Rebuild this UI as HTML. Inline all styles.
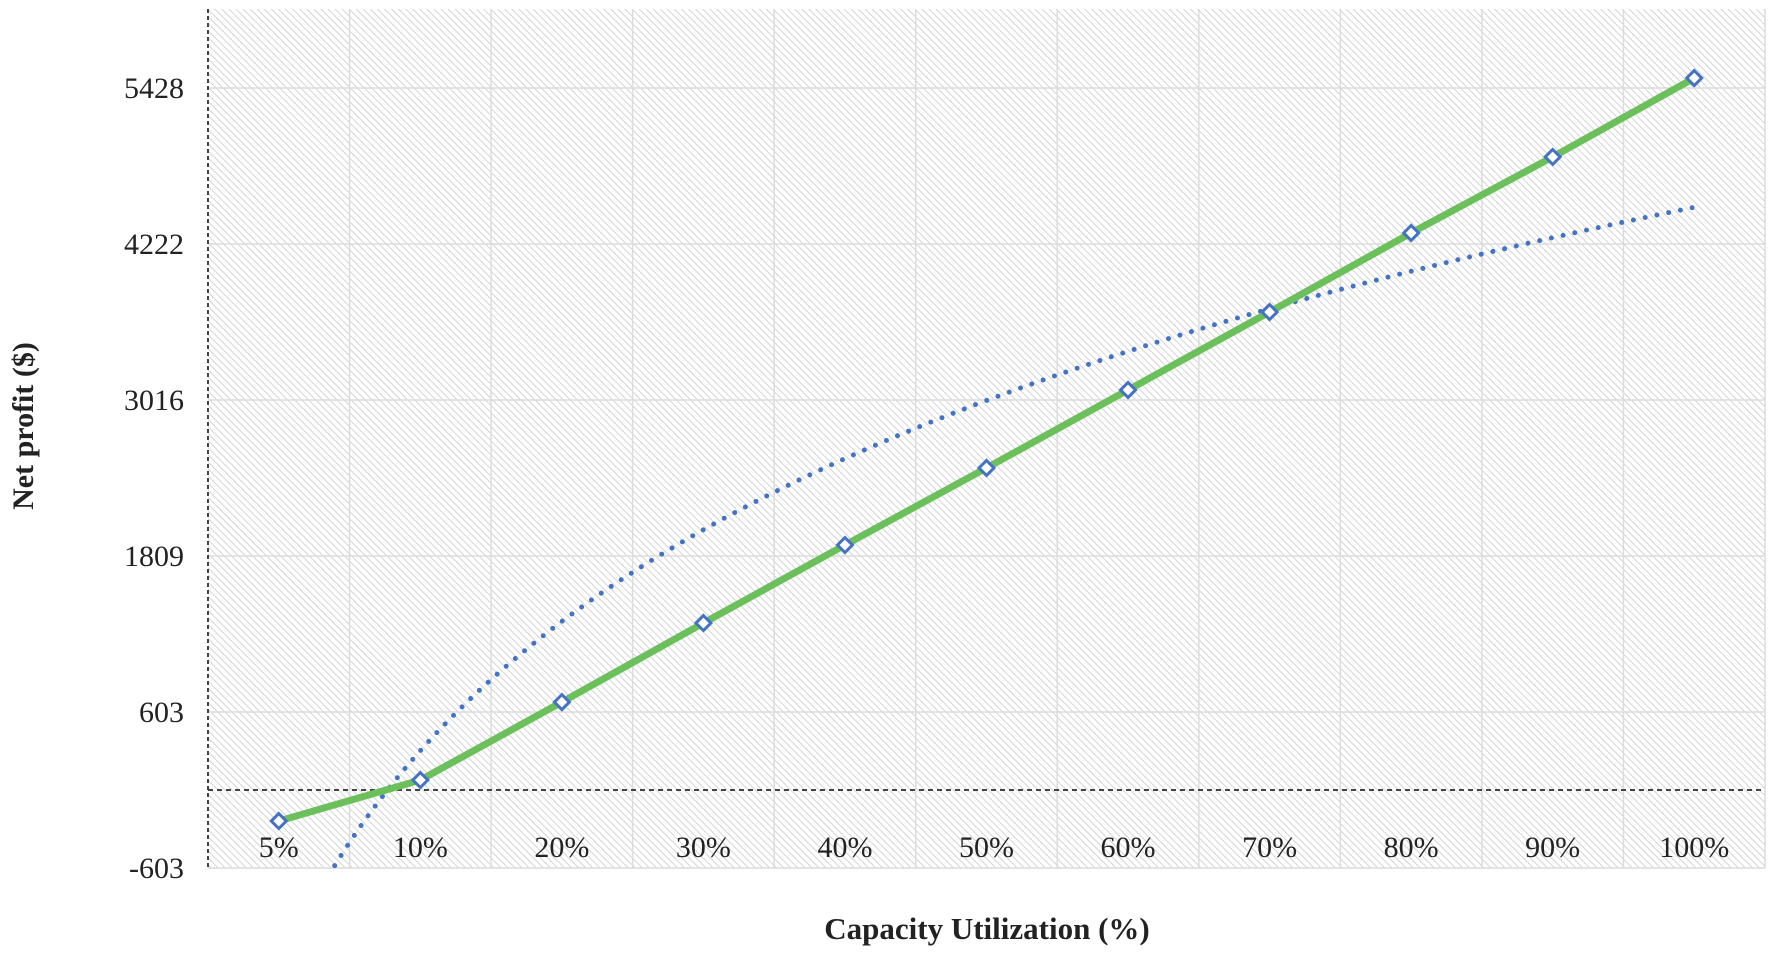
<!DOCTYPE html>
<html><head><meta charset="utf-8">
<style>
html,body{margin:0;padding:0;background:#fff;}
svg{display:block;}
text{font-family:"Liberation Serif",serif;fill:#222;}
</style></head>
<body>
<svg id="chart" width="1772" height="955" viewBox="0 0 1772 955" xmlns="http://www.w3.org/2000/svg">
<defs>
<pattern id="hatch" patternUnits="userSpaceOnUse" width="5" height="5" patternTransform="rotate(-45)">
<rect width="5" height="5" fill="#ffffff"/>
<line x1="0" y1="0" x2="0" y2="5" stroke="#d4d4d4" stroke-width="2"/>
</pattern>
<clipPath id="plotclip"><rect x="208" y="9" width="1557" height="859"/></clipPath>
</defs>
<rect x="208" y="9" width="1557" height="859" fill="url(#hatch)"/>
<g id="grid"></g>
<g id="axes"></g>
<g id="series" clip-path="url(#plotclip)"></g>
<g id="labels"></g>
<text transform="translate(33,426) rotate(-90)" text-anchor="middle" font-size="30" font-weight="bold">Net profit ($)</text>
<text x="987" y="939" text-anchor="middle" font-size="31" font-weight="bold">Capacity Utilization (%)</text>
</svg>
<script>
const categories = ["5%","10%","20%","30%","40%","50%","60%","70%","80%","90%","100%"];
const netProfit = [-240, 77, 680, 1291, 1894, 2490, 3093, 3696, 4307, 4895, 5505];
const yTicks = [-603, 603, 1809, 3016, 4222, 5428];
const yTickLabels = ["-603","603","1809","3016","4222","5428"];

const NS = "http://www.w3.org/2000/svg";
const L = 208, R = 1765, T = 9, B = 868;
const yMin = -603, yMax = 5428 + 1206.25 * (88 - 9) / 156;
const n = categories.length;
const step = (R - L) / n;
function xPos(i) { return L + step * (i + 0.5); }
function xIdx(v) { return L + step * (v - 0.5); }
function yPos(v) { return B - (v - yMin) / (yMax - yMin) * (B - T); }
function mk(tag, attrs, parent) {
  const e = document.createElementNS(NS, tag);
  for (const k in attrs) e.setAttribute(k, attrs[k]);
  parent.appendChild(e); return e;
}
const grid = document.getElementById('grid');
const axes = document.getElementById('axes');
const series = document.getElementById('series');
const labels = document.getElementById('labels');

yTicks.forEach((t, i) => {
  const ln = mk('line', {x1: L, x2: R, y1: yPos(t), y2: yPos(t), stroke: '#dcdcdc', 'stroke-width': 1.5}, grid);
  
  
  const tx = mk('text', {x: 184, y: yPos(t) + 10, 'text-anchor': 'end', 'font-size': 30}, labels);
  tx.textContent = yTickLabels[i];
  
  
});
for (let k = 1; k <= n; k++) {
  const x = L + step * k;
  const ln = mk('line', {x1: x, x2: x, y1: T, y2: B, stroke: '#dcdcdc', 'stroke-width': 1.5}, grid);
  
  
}
const ya = mk('line', {x1: L, x2: L, y1: T, y2: B, stroke: '#444', 'stroke-width': 2, 'stroke-dasharray': '4 3'}, axes);


const za = mk('line', {x1: L, x2: R, y1: yPos(0), y2: yPos(0), stroke: '#444', 'stroke-width': 2, 'stroke-dasharray': '5 4'}, axes);



categories.forEach((c, i) => {
  const tx = mk('text', {x: xPos(i), y: 857, 'text-anchor': 'middle', 'font-size': 30}, labels);
  tx.textContent = c;
  
  
});

let sx = 0, sy = 0;
netProfit.forEach((v, i) => { sx += Math.log(i + 1); sy += v; });
const mx = sx / n, my = sy / n;
let sxx = 0, sxy = 0;
netProfit.forEach((v, i) => { const d = Math.log(i + 1) - mx; sxx += d * d; sxy += d * (v - my); });
const a = sxy / sxx, b = my - a * mx;
let d = '';
for (let s = 0; s <= 400; s++) {
  const v = 1 + s * (n - 1) / 400;
  const val = a * Math.log(v) + b;
  d += (s ? 'L' : 'M') + xIdx(v).toFixed(2) + ',' + yPos(val).toFixed(2);
}
const trend = mk('path', {d: d, fill: 'none', stroke: '#4472c4', 'stroke-width': 5, 'stroke-linecap': 'round', 'stroke-dasharray': '0 12'}, series);



const pts = netProfit.map((v, i) => xPos(i).toFixed(2) + ',' + yPos(v).toFixed(2)).join(' ');
const pl = mk('polyline', {points: pts, fill: 'none', stroke: '#6cc05c', 'stroke-width': 7, 'stroke-linejoin': 'round'}, series);



netProfit.forEach((v, i) => {
  const x = xPos(i), y = yPos(v), r = 7.5;
  const m = mk('polygon', {points: `${x},${y-r} ${x+r},${y} ${x},${y+r} ${x-r},${y}`, fill: '#fff', stroke: '#4472c4', 'stroke-width': 3}, series);
  
  
});
</script>
</body></html>
